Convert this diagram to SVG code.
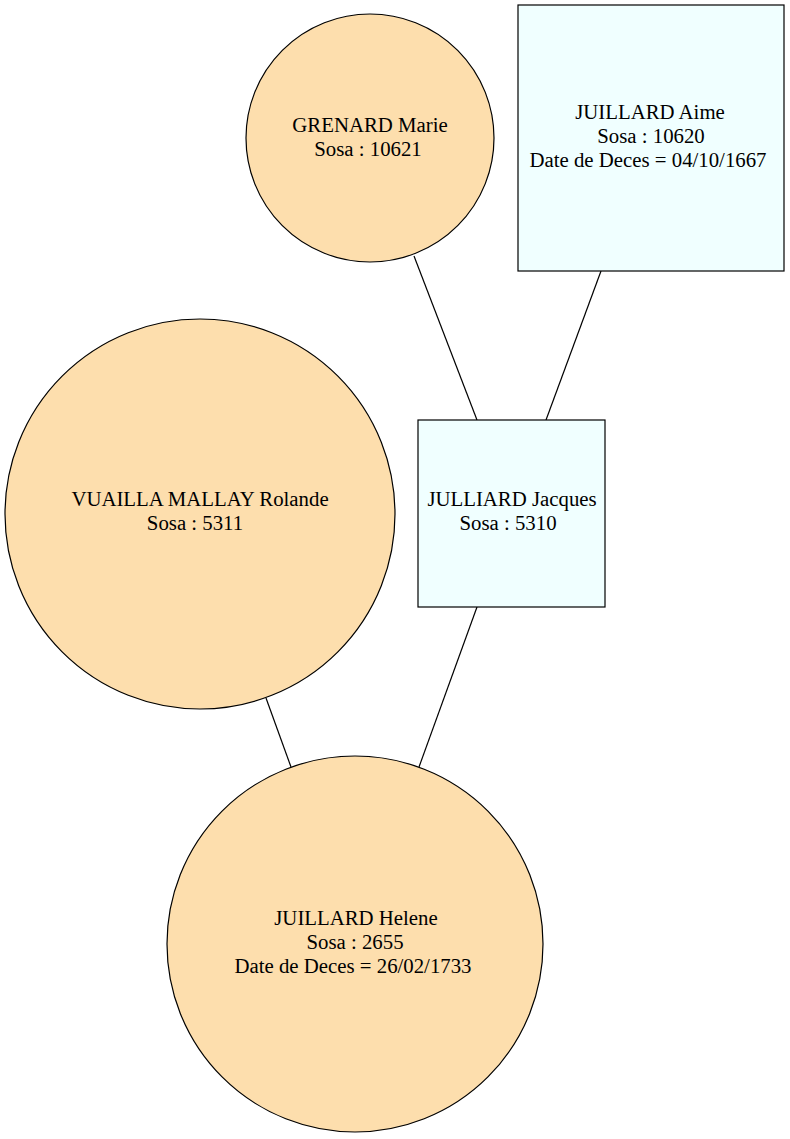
<svg xmlns="http://www.w3.org/2000/svg" width="790" height="1139" viewBox="0 0 790 1139">
<style>
.f{fill:#fddead;stroke:#000;stroke-width:1.2}
.m{fill:#f0ffff;stroke:#000;stroke-width:1.2}
.e{stroke:#000;stroke-width:1.2;fill:none}
text{font-family:"Liberation Serif","Times New Roman",serif;font-size:20.8px;text-anchor:middle;fill:#000}
</style>
<rect width="790" height="1139" fill="#fff"/>
<g id="connectors">
<line class="e" x1="414" y1="256" x2="477" y2="420"/>
<line class="e" x1="601" y1="271" x2="546" y2="420"/>
<line class="e" x1="266" y1="698" x2="291" y2="767"/>
<line class="e" x1="477" y1="607" x2="419" y2="767"/>
</g>
<g id="n10621">
<circle class="f" cx="370" cy="138" r="124"/>
<text x="370" y="132">GRENARD Marie</text>
<text x="368" y="156">Sosa : 10621</text>
</g>
<g id="n10620">
<rect class="m" x="518" y="5" width="266" height="266"/>
<text x="650" y="119">JUILLARD Aime</text>
<text x="651" y="143">Sosa : 10620</text>
<text x="648" y="167">Date de Deces = 04/10/1667</text>
</g>
<g id="n5311">
<circle class="f" cx="200" cy="514" r="195"/>
<text x="200" y="506">VUAILLA MALLAY Rolande</text>
<text x="195" y="530">Sosa : 5311</text>
</g>
<g id="n5310">
<rect class="m" x="418" y="420" width="187" height="187"/>
<text x="512" y="506">JULLIARD Jacques</text>
<text x="508" y="530">Sosa : 5310</text>
</g>
<g id="n2655">
<circle class="f" cx="355" cy="944" r="188"/>
<text x="356" y="925">JUILLARD Helene</text>
<text x="355" y="949">Sosa : 2655</text>
<text x="353" y="973">Date de Deces = 26/02/1733</text>
</g>
</svg>
